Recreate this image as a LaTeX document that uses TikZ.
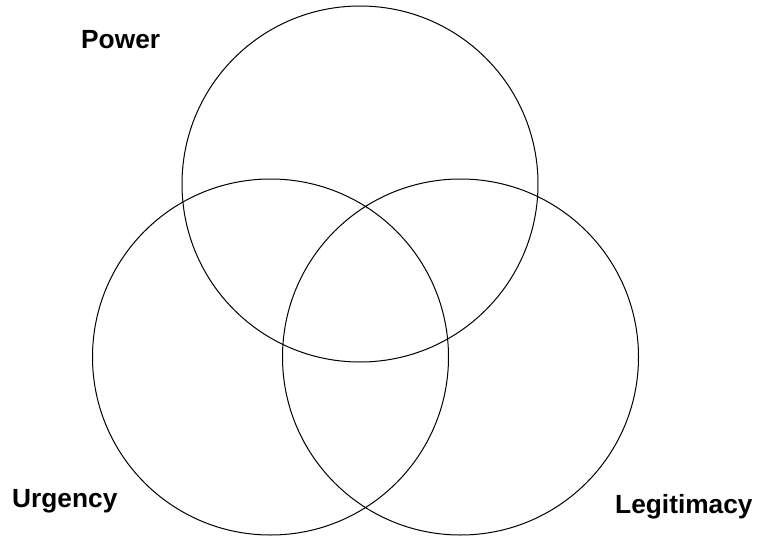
\documentclass[tikz,border=0pt]{standalone}
\usepackage{fontspec}
\setmainfont{Liberation Sans}
\usepackage{tikz}

\begin{document}
\begin{tikzpicture}[x=1pt, y=-1pt, every node/.style={font=\fontsize{26.3}{31}\selectfont\bfseries}, set/.style={draw, circle, line width=1pt, minimum size=356pt, inner sep=0pt}, lbl/.style={anchor=base west, inner sep=0pt}]
	\useasboundingbox (0,0) rectangle (758,536);
	\node[set] (P) at (360,184) {};
	\node[set] (U) at (270.5,357) {};
	\node[set] (L) at (460.5,357) {};
	\node[lbl] (pw) at (81,48) {Power};
	\node[lbl] (ur) at (12,507) {Urgency};
	\node[lbl] (lg) at (615,513) {Legitimacy};
\end{tikzpicture}
\end{document}
